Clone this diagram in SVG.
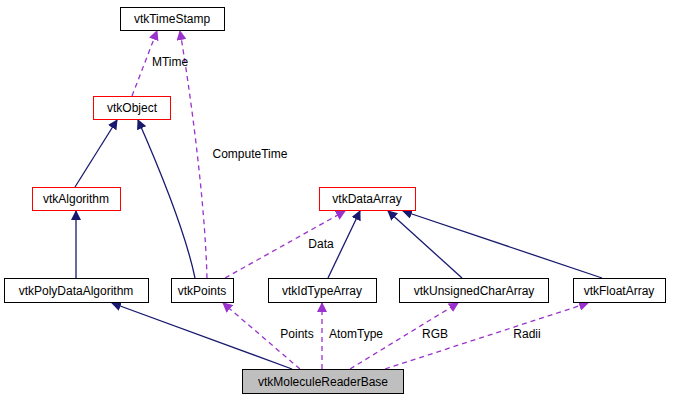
<svg xmlns="http://www.w3.org/2000/svg" width="673" height="400" viewBox="0 0 673 400">
<style>
.n rect{fill:#fff;stroke:#000;stroke-width:1}
.n.r rect{stroke:#f00}
.n.g rect{fill:#bfbfbf}
text{font-family:"Liberation Sans",Arial,sans-serif;font-size:12px;fill:#000}
.n text{text-anchor:middle}
.s{fill:none;stroke:#191970;stroke-width:1.3}
.d{fill:none;stroke:#9a32cd;stroke-width:1.3;stroke-dasharray:5,4}
.l{text-anchor:middle}
</style>
<defs>
<marker id="as" markerWidth="10" markerHeight="10" refX="9" refY="5" orient="auto" markerUnits="userSpaceOnUse" viewBox="0 0 10 10"><path d="M0,0L10,5L0,10z" fill="#191970"/></marker>
<marker id="ad" markerWidth="10" markerHeight="10" refX="9" refY="5" orient="auto" markerUnits="userSpaceOnUse" viewBox="0 0 10 10"><path d="M0,0L10,5L0,10z" fill="#9a32cd"/></marker>
</defs>
<rect width="673" height="400" fill="#fff"/>
<g id="connectors">
<path class="d" marker-end="url(#ad)" d="M132,96 L157,31"/>
<path class="d" marker-end="url(#ad)" d="M207,278 C205,200 190,90 180,31"/>
<path class="s" marker-end="url(#as)" d="M75,187 L117,120"/>
<path class="s" marker-end="url(#as)" d="M195,278 C185,230 160,170 138,120"/>
<path class="s" marker-end="url(#as)" d="M76,278 L76,211"/>
<path class="d" marker-end="url(#ad)" d="M225,278 L345,211"/>
<path class="s" marker-end="url(#as)" d="M328,278 L360,211"/>
<path class="s" marker-end="url(#as)" d="M462,278 L388,211"/>
<path class="s" marker-end="url(#as)" d="M602,278 L403,211"/>
<path class="s" marker-end="url(#as)" d="M292,369 L112,303"/>
<path class="d" marker-end="url(#ad)" d="M300,369 L223,303"/>
<path class="d" marker-end="url(#ad)" d="M322,369 L322,303"/>
<path class="d" marker-end="url(#ad)" d="M350,369 L458,303"/>
<path class="d" marker-end="url(#ad)" d="M385,369 L588,303"/>
<text class="l" x="170" y="66">MTime</text>
<text class="l" x="250" y="158">ComputeTime</text>
<text class="l" x="321" y="248">Data</text>
<text class="l" x="297" y="338">Points</text>
<text class="l" x="356" y="338">AtomType</text>
<text class="l" x="435" y="338">RGB</text>
<text class="l" x="527" y="338">Radii</text>
</g>
<g id="vtkTimeStamp" class="n"><rect x="120.5" y="7.5" width="104" height="23"/><text x="172" y="23">vtkTimeStamp</text></g>
<g id="vtkObject" class="n r"><rect x="93.5" y="96.5" width="77" height="23"/><text x="132" y="112">vtkObject</text></g>
<g id="vtkAlgorithm" class="n r"><rect x="32.5" y="187.5" width="88" height="23"/><text x="76" y="203">vtkAlgorithm</text></g>
<g id="vtkPolyDataAlgorithm" class="n"><rect x="4.5" y="278.5" width="144" height="24"/><text x="76" y="295">vtkPolyDataAlgorithm</text></g>
<g id="vtkPoints" class="n"><rect x="171.5" y="278.5" width="62" height="24"/><text x="202" y="295">vtkPoints</text></g>
<g id="vtkDataArray" class="n r"><rect x="319.5" y="187.5" width="96" height="23"/><text x="367" y="203">vtkDataArray</text></g>
<g id="vtkIdTypeArray" class="n"><rect x="268.5" y="278.5" width="108" height="24"/><text x="322" y="295">vtkIdTypeArray</text></g>
<g id="vtkUnsignedCharArray" class="n"><rect x="399.5" y="278.5" width="149" height="24"/><text x="474" y="295">vtkUnsignedCharArray</text></g>
<g id="vtkFloatArray" class="n"><rect x="573.5" y="278.5" width="92" height="24"/><text x="619" y="295">vtkFloatArray</text></g>
<g id="vtkMoleculeReaderBase" class="n g"><rect x="242.5" y="369.5" width="161" height="24"/><text x="323" y="386">vtkMoleculeReaderBase</text></g>
</svg>
